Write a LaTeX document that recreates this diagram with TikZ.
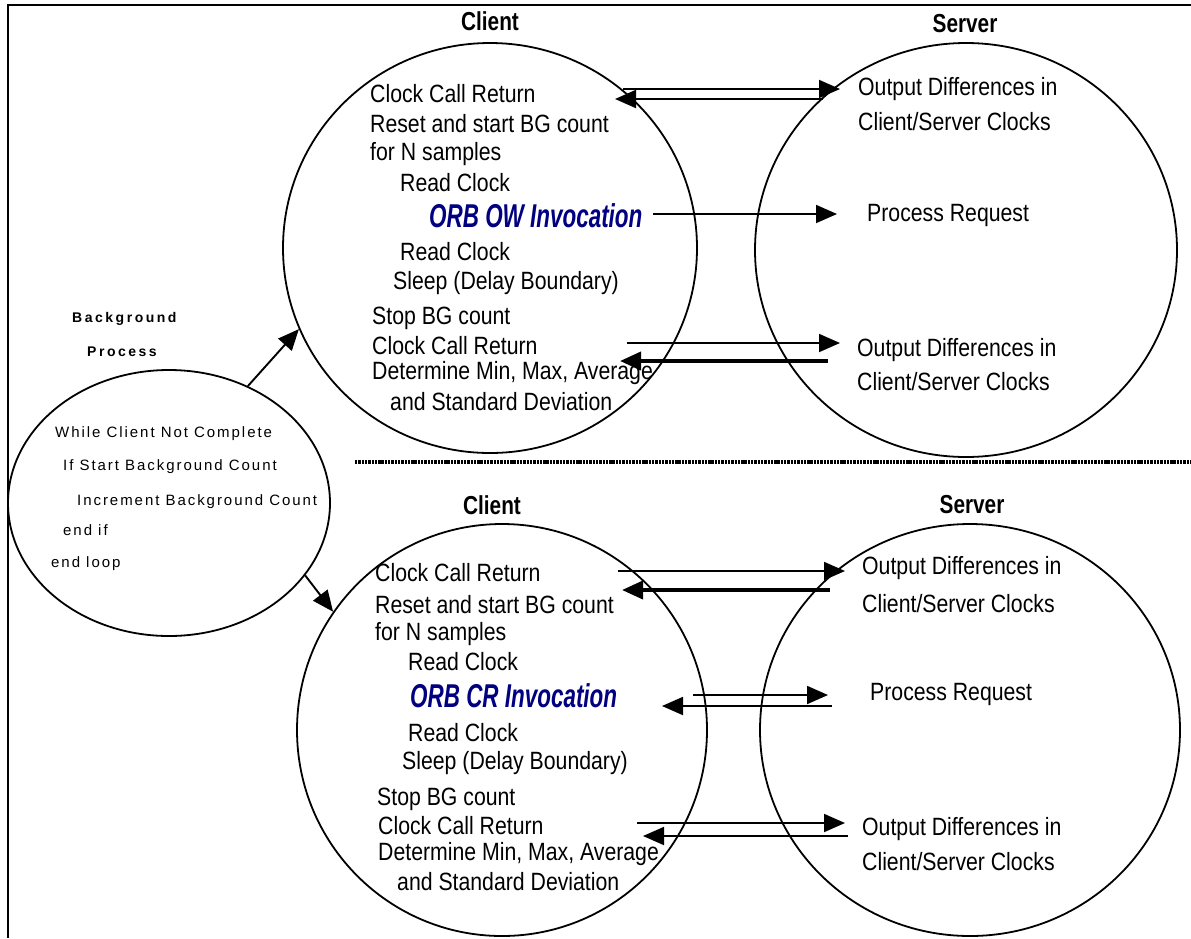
\documentclass[tikz,border=0pt]{standalone}
\usepackage{fontspec}
\setmainfont{Liberation Sans}
\newfontfamily\narrowfont{Liberation Sans}[FakeStretch=0.85]
\newfontfamily\headfont{Liberation Sans}[FakeStretch=0.8]
\newfontfamily\orbfont{Liberation Sans}[FakeStretch=0.68]
\newfontfamily\spacedfont{Liberation Sans}[LetterSpace=13]
\newfontfamily\spacedbold{Liberation Sans}[LetterSpace=18]
\usetikzlibrary{shapes.geometric}
\usetikzlibrary{arrows.meta}
\definecolor{orbblue}{RGB}{0,0,128}

\tikzset{
  proc/.style={draw, ellipse, line width=1.8pt, inner sep=0pt},
  txt/.style={anchor=west, inner sep=0pt, font=\narrowfont\fontsize{25}{30}\selectfont},
  head/.style={inner sep=0pt, font=\headfont\bfseries\fontsize{26}{30}\selectfont},
  orb/.style={anchor=west, inner sep=0pt, text=orbblue, font=\orbfont\bfseries\itshape\fontsize{33}{38}\selectfont},
  bgtxt/.style={anchor=west, inner sep=0pt, font=\spacedfont\fontsize{15}{18}\selectfont},
  bghead/.style={anchor=west, inner sep=0pt, font=\spacedbold\bfseries\fontsize{14}{17}\selectfont},
  msg/.style={-{Triangle[length=21pt,width=18pt]}, line width=1.9pt},
  bigmsg/.style={msg, line width=3.8pt},
}

\begin{document}
\begin{tikzpicture}[x=1pt, y=-1pt]
    \useasboundingbox (0,0) rectangle (1191,938);
    % frame and separator
    \draw[line width=2pt] (1191,5) -- (8,5) -- (8,938);
    \draw[line width=3.2pt, dash pattern=on 2.4pt off 0.9pt] (355,462) -- (1191,462);

    % processes
    \node[proc, minimum width=414pt, minimum height=410pt] (clientA) at (490,248) {};
    \node[proc, minimum width=422pt, minimum height=414pt] (serverA) at (966,250) {};
    \node[proc, minimum width=410pt, minimum height=412pt] (clientB) at (502,730) {};
    \node[proc, minimum width=420pt, minimum height=412pt] (serverB) at (970,730) {};
    \node[proc, minimum width=322pt, minimum height=266pt] (bg) at (169,503) {};

    % headings
    \node[head] (clientAhead) at (490,21) {Client};
    \node[head] (serverAhead) at (965,24) {Server};
    \node[head] (clientBhead) at (492,505) {Client};
    \node[head] (serverBhead) at (972,505) {Server};

    % background process
    \node[bghead] (bgname) at (72,319) {Background};
    \node[bghead] (bgname2) at (87,352) {Process};
    \node[bgtxt] (bgwhile) at (55,434) {While Client Not Complete};
    \node[bgtxt] (bgif) at (63,467) {If Start Background Count};
    \node[bgtxt] (bginc) at (77,502) {Increment Background Count};
    \node[bgtxt] (bgendif) at (63,530) {end if};
    \node[bgtxt] (bgendloop) at (51,564) {end loop};

    % oneway client
    \node[txt] (ccrA) at (370,94) {Clock Call Return};
    \node[txt] (resetA) at (370,124) {Reset and start BG count};
    \node[txt] (samplesA) at (370,154) {for N samples};
    \node[txt] (readA) at (400,183) {Read Clock};
    \node[orb] (orbA) at (429,216) {ORB OW Invocation};
    \node[txt] (readA2) at (400,252) {Read Clock};
    \node[txt] (sleepA) at (393,283) {Sleep (Delay Boundary)};
    \node[txt] (stopA) at (372,318) {Stop BG count};
    \node[txt] (ccrA2) at (372,346) {Clock Call Return};
    \node[txt] (minmaxA) at (372,373) {Determine Min, Max, Average};
    \node[txt] (stddevA) at (390,402) {and Standard Deviation};

    % oneway server
    \node[txt] (outA) at (858,89) {Output Differences in};
    \node[txt] (clocksA) at (858,122) {Client/Server Clocks};
    \node[txt] (reqA) at (867,215) {Process Request};
    \node[txt] (outA2) at (857,350) {Output Differences in};
    \node[txt] (clocksA2) at (857,382) {Client/Server Clocks};

    % call/return client
    \node[txt] (ccrB) at (375,573) {Clock Call Return};
    \node[txt] (resetB) at (375,605) {Reset and start BG count};
    \node[txt] (samplesB) at (375,634) {for N samples};
    \node[txt] (readB) at (408,662) {Read Clock};
    \node[orb] (orbB) at (410,696) {ORB CR Invocation};
    \node[txt] (readB2) at (408,733) {Read Clock};
    \node[txt] (sleepB) at (402,763) {Sleep (Delay Boundary)};
    \node[txt] (stopB) at (377,799) {Stop BG count};
    \node[txt] (ccrB2) at (378,826) {Clock Call Return};
    \node[txt] (minmaxB) at (378,854) {Determine Min, Max, Average};
    \node[txt] (stddevB) at (397,882) {and Standard Deviation};

    % call/return server
    \node[txt] (outB) at (862,568) {Output Differences in};
    \node[txt] (clocksB) at (862,604) {Client/Server Clocks};
    \node[txt] (reqB) at (870,694) {Process Request};
    \node[txt] (outB2) at (862,829) {Output Differences in};
    \node[txt] (clocksB2) at (862,862) {Client/Server Clocks};

    % message ends
    \coordinate (a1s) at (623,89);  \coordinate (a1e) at (840,89);
    \coordinate (a2s) at (823,99);  \coordinate (a2e) at (615,99);
    \coordinate (a3s) at (653,214); \coordinate (a3e) at (837,214);
    \coordinate (a4s) at (627,343); \coordinate (a4e) at (840,343);
    \coordinate (a5s) at (828,361); \coordinate (a5e) at (620,361);
    \coordinate (b1s) at (618,571); \coordinate (b1e) at (845,571);
    \coordinate (b2s) at (830,590); \coordinate (b2e) at (622,590);
    \coordinate (b3s) at (693,695); \coordinate (b3e) at (828,695);
    \coordinate (b4s) at (832,706); \coordinate (b4e) at (662,706);
    \coordinate (b5s) at (637,823); \coordinate (b5e) at (845,823);
    \coordinate (b6s) at (848,836); \coordinate (b6e) at (643,836);

    % messages
    \draw[msg] (a1s) -- (a1e);
    \draw[msg] (a2s) -- (a2e);
    \draw[msg] (a3s) -- (a3e);
    \draw[msg] (a4s) -- (a4e);
    \draw[bigmsg] (a5s) -- (a5e);
    \draw[msg] (b1s) -- (b1e);
    \draw[bigmsg] (b2s) -- (b2e);
    \draw[msg] (b3s) -- (b3e);
    \draw[msg] (b4s) -- (b4e);
    \draw[msg] (b5s) -- (b5e);
    \draw[msg] (b6s) -- (b6e);

    % background to clients
    \draw[msg] (bg.56) -- (clientA.203);
    \draw[msg] (bg.-28) -- (clientB.145);
\end{tikzpicture}
\end{document}
